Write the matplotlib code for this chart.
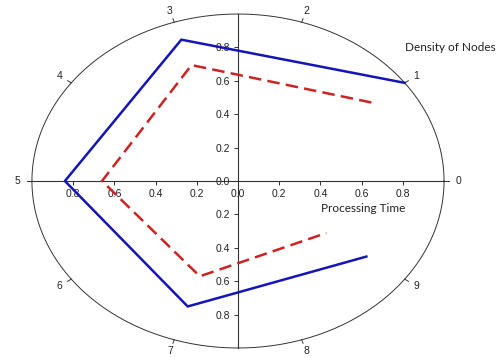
import numpy as np
import matplotlib
matplotlib.use("Agg")
import matplotlib.pyplot as plt

# spokes 0..9 around the ellipse, values given on odd spokes only
spokes = list(range(10))
spoke_idx = [1, 3, 5, 7, 9]
density = [1.00, 0.89, 0.84, 0.79, 0.77]      # blue solid
proc_time = [0.80, 0.73, 0.66, 0.60, 0.53]    # red dashed
axis_ticks = [-0.8, -0.6, -0.4, -0.2, 0.0, 0.2, 0.4, 0.6, 0.8]

plt.rcParams['font.family'] = ['Liberation Sans', 'DejaVu Sans']

fig = plt.figure(figsize=(5.04, 3.58), dpi=100)
ax = fig.add_axes([0, 0, 1, 1])
ax.set_xlim(-1.155, 1.291)
ax.set_ylim(-1.06, 1.084)

# outline ellipse
t = np.linspace(0, 2*np.pi, 400)
ax.plot(np.cos(t), np.sin(t), color='#333333', lw=0.7)

# spoke ticks and labels
for s in spokes:
    a = np.deg2rad(36*s)
    ax.plot([1.0*np.cos(a), 1.022*np.cos(a)], [1.0*np.sin(a), 1.022*np.sin(a)],
            color='#333333', lw=0.7)
    ax.text(1.07*np.cos(a), 1.07*np.sin(a), str(s), fontsize=7.5,
            ha='center', va='center', color='#222222')

def xy(idx, vals):
    ang = np.deg2rad(36*np.array(idx))
    v = np.array(vals)
    return v*np.cos(ang), v*np.sin(ang)

bx, by = xy(spoke_idx, density)
rx, ry = xy(spoke_idx, proc_time)
ax.plot(bx, by, color='#1414B8', lw=1.8, zorder=3)
ax.plot(rx, ry, color='#CC2222', lw=1.8, dashes=(5, 2.5), zorder=3)

# centered cross axes
for side in ['top', 'right']:
    ax.spines[side].set_visible(False)
ax.spines['left'].set_position(('data', 0))
ax.spines['bottom'].set_position(('data', 0))
ax.spines['left'].set_bounds(-1, 1)
ax.spines['bottom'].set_bounds(-1.01, 1.0)
for side in ['left', 'bottom']:
    ax.spines[side].set_color('#333333')
    ax.spines[side].set_linewidth(0.8)
ax.set_xticks(axis_ticks)
ax.set_yticks(axis_ticks)
ax.set_xticklabels(['%.1f' % abs(v) for v in axis_ticks])
ax.set_yticklabels(['%.1f' % abs(v) for v in axis_ticks])
ax.tick_params(axis='both', direction='out', length=3, width=0.7, colors='#333333',
               labelsize=7.5, labelcolor='#222222', pad=3)

ax.text(1.03, 0.80, 'Density of Nodes', fontsize=8.5, ha='center', va='center',
        family=['Lato', 'DejaVu Sans'], color='#222222')
ax.text(0.61, -0.165, 'Processing Time', fontsize=8.5, ha='center', va='center',
        family=['Lato', 'DejaVu Sans'], color='#222222')

fig.savefig('out.png', dpi=100)
